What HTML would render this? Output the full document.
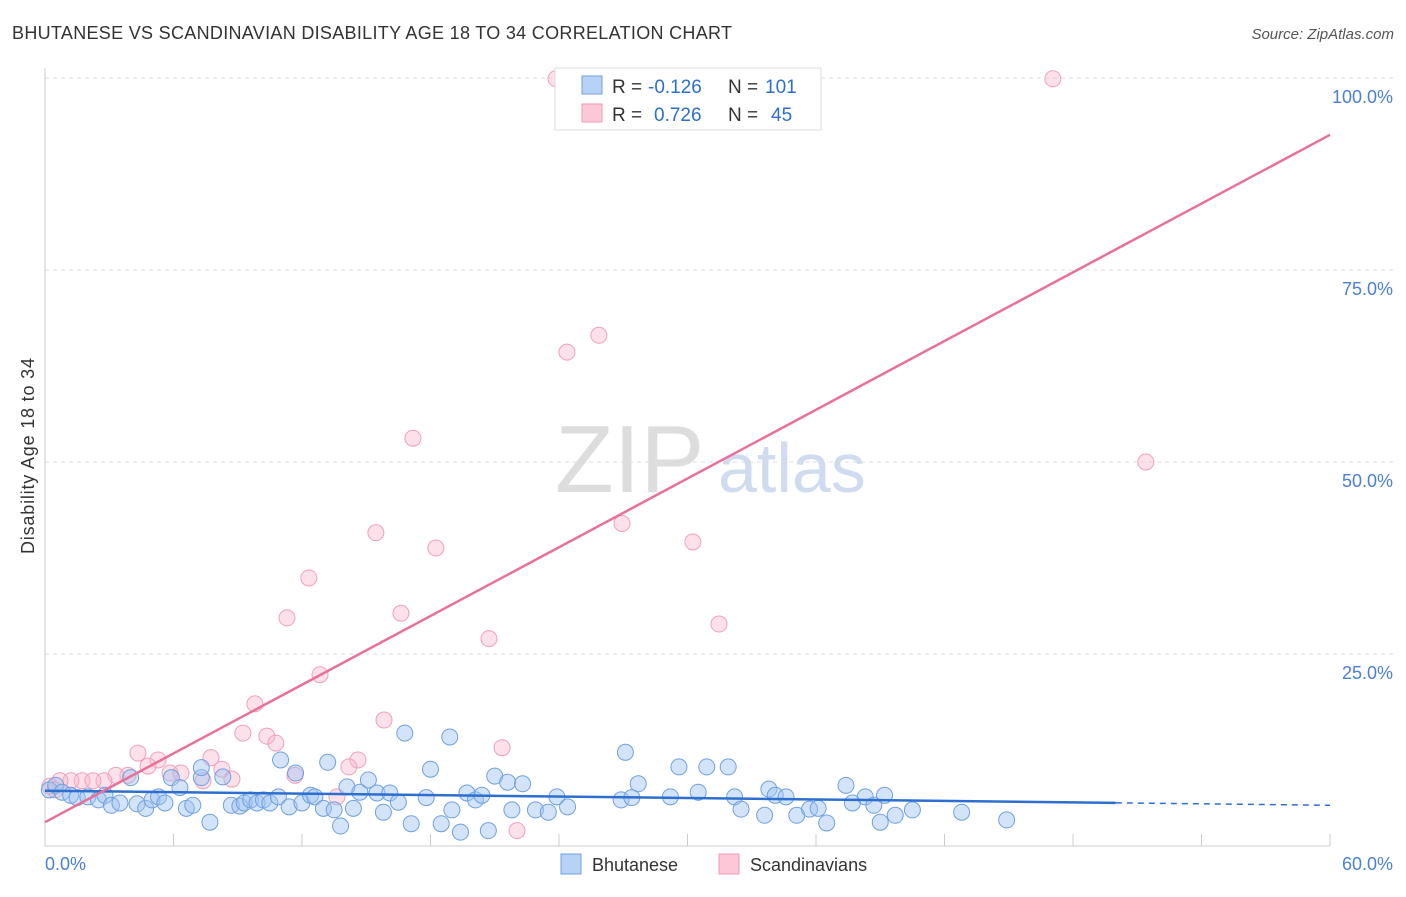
<!DOCTYPE html>
<html><head><meta charset="utf-8"><style>
body{margin:0;background:#fff;font-family:"Liberation Sans",sans-serif}
svg text{font-family:"Liberation Sans",sans-serif}
</style></head><body>
<svg width="1406" height="892">
<text x="12" y="39" font-size="18" fill="#333" textLength="720">BHUTANESE VS SCANDINAVIAN DISABILITY AGE 18 TO 34 CORRELATION CHART</text>
<text x="1394" y="39" font-size="15" fill="#555" font-style="italic" text-anchor="end">Source: ZipAtlas.com</text>
<text x="34" y="456" font-size="18" fill="#333" text-anchor="middle" transform="rotate(-90 34 456)" textLength="196">Disability Age 18 to 34</text>
<text x="555" y="492" font-size="96" fill="#ddd" font-family="Liberation Serif">ZIP</text>
<text x="718" y="492" font-size="70" fill="#cfdcf0">atlas</text>
<g id="grid"></g>
<g id="pts"></g>
<g id="lines"></g>
<g>
<rect x="555" y="68" width="266" height="62" fill="#fff" stroke="#ddd"/>
<rect x="582" y="76" width="20" height="18" fill="#b8d2f5" stroke="#6fa0e0"/>
<rect x="582" y="104" width="20" height="18" fill="#fcc8d8" stroke="#ee9ab5"/>
<text x="612" y="93" font-size="19" fill="#333">R =</text>
<text x="648" y="93" font-size="19" fill="#2d6fd0">-0.126</text>
<text x="728" y="93" font-size="19" fill="#333">N =</text>
<text x="765" y="93" font-size="19" fill="#2d6fd0">101</text>
<text x="612" y="121" font-size="19" fill="#333">R =</text>
<text x="654" y="121" font-size="19" fill="#2d6fd0">0.726</text>
<text x="728" y="121" font-size="19" fill="#333">N =</text>
<text x="771" y="121" font-size="19" fill="#2d6fd0">45</text>
</g>
<g>
<rect x="561" y="854" width="20" height="20" fill="#b8d2f5" stroke="#6fa0e0"/>
<text x="592" y="871" font-size="18" fill="#333">Bhutanese</text>
<rect x="719" y="854" width="20" height="20" fill="#fcc8d8" stroke="#ee9ab5"/>
<text x="750" y="871" font-size="18" fill="#333">Scandinavians</text>
</g>
</svg>
<script>
const xTicks=[0,6,12,18,24,30,36,42,48,54,60];
const yTicks=[25,50,75,100];
const blueX=[0.2,0.5,0.8,1.2,1.5,2.0,2.5,2.8,3.1,3.5,4.0,4.3,4.7,5.0,5.3,5.6,5.9,6.3,6.6,6.9,7.3,7.7,7.3,8.3,8.7,9.1,9.3,9.6,9.9,10.2,10.5,10.9,11.0,11.4,11.7,12.0,12.4,12.6,13.0,13.2,13.5,13.8,14.1,14.4,14.7,15.1,15.5,15.8,16.1,16.5,16.8,17.1,17.8,18.0,18.5,19.0,18.9,19.4,19.7,20.1,20.4,20.7,21.0,21.6,21.8,22.3,22.9,23.5,23.9,24.4,26.9,27.1,27.4,27.7,29.2,29.6,30.5,30.9,31.9,32.2,32.5,33.6,33.8,34.1,34.6,35.1,35.7,36.1,36.5,37.4,37.7,38.3,38.7,39.0,39.2,39.7,40.5,42.8,44.9];
const blueY=[7.3,7.9,7.0,6.6,6.3,6.4,6.0,6.6,5.3,5.6,8.9,5.5,4.9,6.0,6.4,5.6,8.9,7.6,4.9,5.3,8.9,3.1,10.2,9.0,5.3,5.2,5.6,6.0,5.6,6.0,5.6,6.4,11.2,5.1,9.5,5.6,6.6,6.4,4.9,10.9,4.7,2.6,7.7,4.9,7.0,8.6,6.9,4.4,6.9,5.7,14.7,2.9,6.3,10.0,2.9,4.7,14.2,1.8,6.9,6.0,6.6,2.0,9.1,8.3,4.7,8.1,4.7,4.4,6.4,5.1,6.0,12.2,6.3,8.1,6.4,10.3,7.0,10.3,10.3,6.4,4.8,4.0,7.4,6.6,6.4,4.0,4.8,4.9,3.0,7.9,5.6,6.4,5.3,3.1,6.6,4.0,4.7,4.4,3.4];
const pinkX=[23.86,47.06,25.86,24.37,17.18,51.4,15.45,26.94,18.25,30.25,12.32,11.30,16.62,20.73,31.47,12.84,9.80,9.24,15.83,10.36,10.78,4.34,5.28,7.75,14.61,21.34,14.19,4.81,5.84,6.35,8.26,3.87,3.31,2.75,1.73,2.24,1.21,0.70,11.67,8.73,7.38,13.63,22.04,0.23,0.47];
const pinkY=[99.9,99.9,66.5,64.3,53.1,50.0,40.8,42.0,38.8,39.6,34.9,29.7,30.3,27.0,28.9,22.3,18.5,14.7,16.4,14.3,13.4,12.1,11.2,11.5,11.2,12.8,10.3,10.4,9.5,9.5,10.0,9.2,9.2,8.5,8.5,8.5,8.5,8.5,9.2,8.7,8.5,6.4,2.0,7.8,7.3];
const blueLine=[7.2,5.3], pinkLine=[3.1,92.6];
const X=v=>45+v*(1285/60), Y=v=>846-v*7.68;
const NS='http://www.w3.org/2000/svg';
function mk(t,a,p){const e=document.createElementNS(NS,t);for(const k in a)e.setAttribute(k,a[k]);p.appendChild(e);return e;}
const g=document.getElementById('grid');
for(const t of yTicks){
 const l=mk('line',{x1:45,x2:1395,y1:Y(t),y2:Y(t),stroke:'#ddd','stroke-dasharray':'4,4'},g);
 
 
 const tx=mk('text',{x:1393,y:Y(t)+25,'font-size':18,fill:'#4a7fd4','text-anchor':'end'},g);
 tx.textContent=t.toFixed(1)+'%';
 
 
}
const ax=mk('line',{x1:45,x2:45,y1:68,y2:846,stroke:'#ccc'},g);


const bx=mk('line',{x1:45,x2:1330,y1:846,y2:846,stroke:'#ccc'},g);


for(const t of xTicks){
 const l=mk('line',{x1:X(t),x2:X(t),y1:834,y2:846,stroke:'#ccc'},g);
 
 
}
const xl=[[0,'0.0%','start',45],[60,'60.0%','end',1393]];
for(const [v,s,a,px] of xl){
 const tx=mk('text',{x:px,y:870,'font-size':18,fill:'#4a7fd4','text-anchor':a},g);
 tx.textContent=s;
 
 
}
const p=document.getElementById('pts');
pinkX.forEach((v,i)=>{const c=mk('circle',{cx:X(v),cy:Y(pinkY[i]),r:8,fill:'rgba(248,180,202,0.4)',stroke:'#f0a0ba','stroke-width':1},p);
 
 });
blueX.forEach((v,i)=>{const c=mk('circle',{cx:X(v),cy:Y(blueY[i]),r:8,fill:'rgba(160,196,240,0.45)',stroke:'#6fa0e0','stroke-width':1},p);
 
 });
const L=document.getElementById('lines');
const bv=x=>blueLine[0]+(blueLine[1]-blueLine[0])*x/60;
let e=mk('line',{x1:X(0),y1:Y(bv(0)),x2:X(50),y2:Y(bv(50)),stroke:'#2d6fd0','stroke-width':2.5},L);


e=mk('line',{x1:X(50),y1:Y(bv(50)),x2:X(60),y2:Y(bv(60)),stroke:'#2d6fd0','stroke-width':1.5,'stroke-dasharray':'6,5'},L);


e=mk('line',{x1:X(0),y1:Y(pinkLine[0]),x2:X(60),y2:Y(pinkLine[1]),stroke:'#e8709a','stroke-width':2.5},L);


</script>
</body></html>
